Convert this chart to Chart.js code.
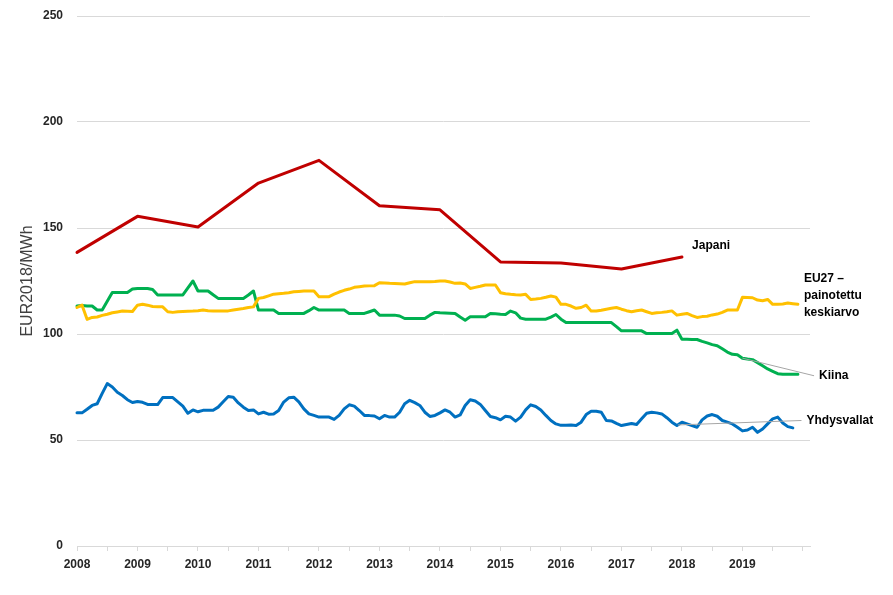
<!DOCTYPE html>
<html>
<head>
<meta charset="utf-8">
<script src="https://cdn.jsdelivr.net/npm/chart.js@4.4.1/dist/chart.umd.min.js"></script>
<style>
  html, body { margin: 0; padding: 0; background: #fff; }
  #chart { display: block; }
</style>
</head>
<body>
<canvas id="chart" width="893" height="595" style="width:893px;height:595px"></canvas>
<script>
// Monthly prices from January 2008 (index 0 = 2008-01)
const yearLabels = ['2008', '2009', '2010', '2011', '2012', '2013', '2014', '2015', '2016', '2017', '2018', '2019'];
const yTicks = [0, 50, 100, 150, 200, 250];

// Japani: yearly values, January of 2008..2018
const japan = [138.5, 155.5, 150.5, 171.2, 181.9, 160.5, 158.6, 134, 133.5, 130.7, 136.3];

// EU27 weighted average, monthly
const eu27 = [
    112.5, 113.6, 106.9, 107.8, 108, 108.8, 109.3, 110, 110.4, 110.8, 110.7, 110.6,
    113.6, 114, 113.6, 113, 112.8, 112.8, 110.5, 110.2, 110.5, 110.6, 110.7, 110.8,
    111, 111.3, 111, 110.8, 110.8, 110.9, 110.9, 111.3, 111.7, 112, 112.5, 112.8,
    116.8, 117.2, 118, 118.8, 119, 119.2, 119.5, 119.9, 120.1, 120.3, 120.3, 120.3,
    117.6, 117.6, 117.6, 118.8, 119.8, 120.6, 121.2, 122, 122.3, 122.6, 122.7, 122.8,
    124.2, 124.1, 123.9, 123.8, 123.7, 123.6, 124.2, 124.7, 124.7, 124.7, 124.7, 124.8,
    125, 125, 124.5, 123.9, 124.1, 123.6, 121.5, 122, 122.5, 123.1, 123.1, 123.1,
    119.5, 119, 118.7, 118.5, 118.4, 118.7, 116.3, 116.5, 116.8, 117.3, 117.9, 117.4,
    114, 114, 113.2, 112.1, 112.5, 113.6, 110.8, 110.8, 111.2, 111.7, 112.1, 112.5,
    111.7, 111, 110.5, 111, 111.3, 110.5, 109.7, 110, 110.2, 110.5, 110.9, 108.9,
    109.3, 109.7, 108.7, 107.8, 108.2, 108.4, 109, 109.4, 110.2, 111.3, 111.3, 111.3,
    117.3, 117.2, 117.1, 116, 115.7, 116.3, 114, 114, 114.2, 114.6, 114.3, 114
];

// Kiina, monthly
const china = [
    113.2, 113.4, 113.2, 113.2, 111.3, 111.3, 115.5, 119.6, 119.6, 119.6, 119.6, 121.2,
    121.5, 121.5, 121.5, 121, 118.4, 118.4, 118.4, 118.4, 118.4, 118.4, 121.7, 125,
    120.3, 120.3, 120.3, 118.5, 116.8, 116.8, 116.8, 116.8, 116.8, 116.8, 118.4, 120.3,
    111.3, 111.3, 111.3, 111.3, 109.7, 109.7, 109.7, 109.7, 109.7, 109.7, 111, 112.5,
    111.3, 111.3, 111.3, 111.3, 111.3, 111.3, 109.7, 109.7, 109.7, 109.7, 110.5, 111.3,
    108.9, 108.9, 108.9, 108.9, 108.5, 107.3, 107.3, 107.3, 107.3, 107.3, 108.9, 110.2,
    110, 109.9, 109.8, 109.7, 108, 106.5, 108.1, 108.1, 108.1, 108.1, 109.7, 109.5,
    109.3, 109.2, 110.8, 110, 107.5, 107, 107, 107, 107, 107, 108, 109.2,
    107, 105.4, 105.4, 105.4, 105.4, 105.4, 105.4, 105.4, 105.4, 105.4, 105.4, 103.5,
    101.5, 101.5, 101.5, 101.5, 101.5, 100.2, 100.2, 100.2, 100.2, 100.2, 100.2, 101.8,
    97.5, 97.5, 97.4, 97.4, 96.5, 95.8, 95, 94.5, 93, 91.5, 90.4, 90.2,
    88.6, 88.2, 87.9, 86.5, 85, 83.5, 82.4, 81.3, 81, 81, 81, 81
];

// Yhdysvallat, monthly (to Nov 2019)
const usa = [
    62.8, 62.8, 64.5, 66.3, 67.1, 72, 76.6, 75, 72.5, 71, 69, 67.7,
    68.2, 67.8, 66.8, 66.7, 66.7, 70, 70.1, 70, 68, 66, 62.6, 64.2,
    63.3, 64, 64, 64, 65.5, 68, 70.5, 70.2, 67.5, 65.5, 63.9, 64.2,
    62.3, 63.1, 62.2, 62.3, 63.9, 67.9, 69.9, 70.2, 68, 64.7, 62.3, 61.6,
    60.8, 60.8, 60.8, 59.7, 61.6, 64.7, 66.6, 66, 63.9, 61.6, 61.5, 61.3,
    60, 61.6, 60.8, 60.8, 63.1, 67.1, 68.7, 67.6, 66.3, 63.1, 61.1, 61.6,
    62.8, 64.2, 63.1, 60.8, 61.8, 66.3, 69, 68.4, 66.8, 63.9, 61.1, 60.5,
    59.5, 61.2, 60.8, 58.9, 60.8, 64.2, 66.6, 65.8, 64.2, 61.6, 59.2, 57.6,
    56.9, 57, 57.1, 56.8, 58.4, 62, 63.6, 63.6, 63.1, 59.2, 59, 57.8,
    56.8, 57.3, 57.8, 57.3, 60, 62.6, 63.1, 62.8, 62.3, 60.5, 58.4, 56.8,
    58.4, 57.6, 56.8, 56, 59.5, 61.3, 62, 61.2, 59.2, 58.4, 57.6, 56,
    54.3, 54.7, 56, 53.6, 55.2, 57.6, 60, 60.8, 58, 56.3, 55.7
];

const monthly = arr => arr.map((v, i) => ({ x: i, y: v }));
const yearly = arr => arr.map((v, i) => ({ x: i * 12, y: v }));

// series end labels, placed in data units; lead = start point of a leader line
const endLabels = [
    { lines: ['Japani'], x: 122, y: 141.6 },
    { lines: ['EU27 –', 'painotettu', 'keskiarvo'], x: 144.2, y: 126.1 },
    { lines: ['Kiina'], x: 147.2, y: 80.3, lead: { x: 132, y: 88.6 } },
    { lines: ['Yhdysvallat'], x: 144.7, y: 59.2, lead: { x: 119.2, y: 57.1 } }
];

const endLabelPlugin = {
    id: 'endLabels',
    afterDatasetsDraw(chart) {
        const { ctx, scales: { x, y } } = chart;
        ctx.save();
        endLabels.forEach(l => {
            const px = x.getPixelForValue(l.x);
            const py = y.getPixelForValue(l.y);
            if (l.lead) {
                ctx.strokeStyle = '#a6a6a6';
                ctx.lineWidth = 1;
                ctx.beginPath();
                ctx.moveTo(x.getPixelForValue(l.lead.x), y.getPixelForValue(l.lead.y));
                ctx.lineTo(px - 5, py);
                ctx.stroke();
            }
            ctx.fillStyle = '#000';
            ctx.font = 'bold 12px "Liberation Sans", Arial, sans-serif';
            ctx.textBaseline = 'middle';
            ctx.textAlign = 'left';
            l.lines.forEach((t, k) => ctx.fillText(t, px, py + k * 17));
        });
        ctx.restore();
    }
};

const tickFont = { family: '"Liberation Sans", Arial, sans-serif', size: 12, weight: 'bold' };

new Chart(document.getElementById('chart'), {
    type: 'line',
    data: {
        datasets: [
            { label: 'Japani', data: yearly(japan), borderColor: '#c00000', clip: 4 },
            { label: 'EU27 – painotettu keskiarvo', data: monthly(eu27), borderColor: '#ffc000', clip: 4 },
            { label: 'Kiina', data: monthly(china), borderColor: '#00b050', clip: 4 },
            { label: 'Yhdysvallat', data: monthly(usa), borderColor: '#0070c0', clip: 4 }
        ]
    },
    options: {
        responsive: false,
        animation: false,
        devicePixelRatio: 1,
        layout: { padding: { top: 16, right: 83, left: 0, bottom: 0 } },
        elements: {
            point: { radius: 0 },
            line: { borderWidth: 3, tension: 0, borderCapStyle: 'round', borderJoinStyle: 'round', fill: false }
        },
        plugins: { legend: { display: false }, tooltip: { enabled: false } },
        scales: {
            x: {
                type: 'linear',
                min: 0,
                max: 145.4,
                afterBuildTicks: s => {
                    const t = [];
                    for (let m = 0; m <= 144; m += 6) t.push({ value: m });
                    s.ticks = t;
                },
                afterFit: s => { s.height = 49; },
                ticks: {
                    autoSkip: false,
                    maxRotation: 0,
                    padding: 6,
                    color: '#262626',
                    font: tickFont,
                    callback: v => (v % 12 === 0 && v / 12 < yearLabels.length) ? yearLabels[v / 12] : ''
                },
                grid: { drawOnChartArea: false, tickLength: 5, color: '#d9d9d9' },
                border: { display: true, color: '#d9d9d9' }
            },
            y: {
                min: 0,
                max: 250,
                afterBuildTicks: s => { s.ticks = yTicks.map(v => ({ value: v })); },
                afterFit: s => { s.width = 77; s.paddingTop = 0; s.paddingBottom = 0; },
                ticks: { padding: 14, color: '#262626', font: tickFont },
                grid: { drawTicks: false, color: '#d9d9d9' },
                border: { display: false },
                title: {
                    display: true,
                    text: 'EUR2018/MWh',
                    color: '#404040',
                    font: { family: '"Liberation Sans", Arial, sans-serif', size: 16 },
                    padding: { top: 18, bottom: 0 }
                }
            }
        }
    },
    plugins: [endLabelPlugin]
});
</script>
</body>
</html>
